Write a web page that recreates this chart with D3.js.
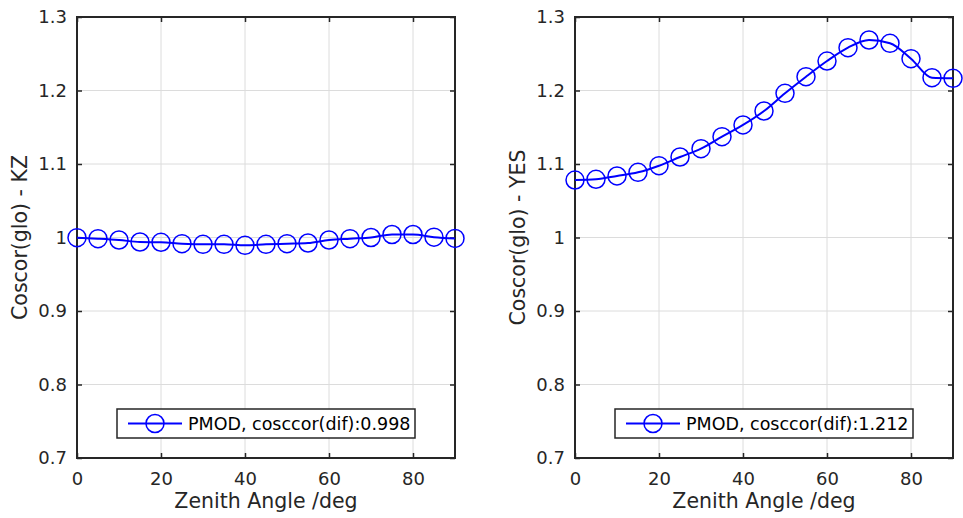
<!DOCTYPE html>
<html>
<head>
<meta charset="utf-8">
<script src="https://cdn.jsdelivr.net/npm/d3@7"></script>
<style>
  body { margin: 0; background: #fff; }
  svg { display: block; font-family: "DejaVu Sans", sans-serif; }
</style>
</head>
<body>
<svg id="chart"></svg>
<script>
// zenith angles (deg) shared by both panels
const angles = [0, 5, 10, 15, 20, 25, 30, 35, 40, 45, 50, 55, 60, 65, 70, 75, 80, 85, 90];

// cosine correction, global, per site
const kzValues = [0.9998, 0.9984, 0.9966, 0.9939, 0.9935, 0.9916, 0.9907, 0.9907, 0.9893, 0.9907,
                  0.9916, 0.9925, 0.9966, 0.9984, 1.0000, 1.0041, 1.0041, 1.0005, 0.9987];
const yesValues = [1.0782, 1.0792, 1.0837, 1.0887, 1.0977, 1.1095, 1.1209, 1.1372, 1.1531, 1.1721,
                   1.1962, 1.2188, 1.2401, 1.2583, 1.2687, 1.2642, 1.2433, 1.2174, 1.2166];

const xTicks = [0, 20, 40, 60, 80];
const yTicks = [0.7, 0.8, 0.9, 1.0, 1.1, 1.2, 1.3];

const panels = [
    { left: 77, values: kzValues, ylabel: 'Coscor(glo) - KZ', legend: 'PMOD, cosccor(dif):0.998' },
    { left: 575, values: yesValues, ylabel: 'Coscor(glo) - YES', legend: 'PMOD, cosccor(dif):1.212' }
];

const width = 963;
const height = 518;
const plotW = 378;
const plotTop = 17;
const plotBottom = 458;
const axisColor = '#262626';
const blue = '#0000ff';

const svg = d3.select('#chart')
    .attr('width', width)
    .attr('height', height);

panels.forEach(p => {
    const x = d3.scaleLinear().domain([0, 90]).range([p.left, p.left + plotW]);
    const y = d3.scaleLinear().domain([0.7, 1.3]).range([plotBottom, plotTop]);

    const g = svg.append('g');

    // grid
    g.append('g').selectAll('line')
        .data(xTicks.filter(d => d > 0))
        .join('line')
        .attr('x1', d => x(d)).attr('x2', d => x(d))
        .attr('y1', plotTop).attr('y2', plotBottom)
        .attr('stroke', '#dcdcdc').attr('stroke-width', 1);
    g.append('g').selectAll('line')
        .data(yTicks.filter(d => d > 0.7 && d < 1.3))
        .join('line')
        .attr('x1', x(0)).attr('x2', x(90))
        .attr('y1', d => y(d)).attr('y2', d => y(d))
        .attr('stroke', '#dcdcdc').attr('stroke-width', 1);

    // axes (inward ticks on all four sides)
    const fmt = d => d === 1 ? '1' : d3.format('.1f')(d);
    g.append('g')
        .attr('transform', `translate(0,${plotBottom})`)
        .call(d3.axisBottom(x).tickValues(xTicks).tickSize(-5).tickPadding(14).tickSizeOuter(0));
    g.append('g')
        .attr('transform', `translate(${p.left},0)`)
        .call(d3.axisLeft(y).tickValues(yTicks).tickFormat(fmt).tickSize(-5).tickPadding(10).tickSizeOuter(0));
    g.append('g')
        .attr('transform', `translate(0,${plotTop})`)
        .call(d3.axisTop(x).tickValues(xTicks).tickSize(-5).tickFormat('').tickSizeOuter(0));
    g.append('g')
        .attr('transform', `translate(${p.left + plotW},0)`)
        .call(d3.axisRight(y).tickValues(yTicks).tickSize(-5).tickFormat('').tickSizeOuter(0));

    g.selectAll('.domain').attr('stroke', 'none');
    g.selectAll('.tick line').attr('stroke', axisColor).attr('stroke-width', 1.5);
    g.selectAll('.tick text')
        .attr('fill', axisColor)
        .attr('font-size', 18)
        .attr('font-family', '"DejaVu Sans", sans-serif');

    // box
    g.append('rect')
        .attr('x', x(0)).attr('y', plotTop)
        .attr('width', plotW).attr('height', plotBottom - plotTop)
        .attr('fill', 'none')
        .attr('stroke', axisColor).attr('stroke-width', 2);

    // labels
    g.append('text')
        .attr('x', (x(0) + x(90)) / 2)
        .attr('y', 508)
        .attr('text-anchor', 'middle')
        .attr('font-size', 20.5)
        .attr('fill', axisColor)
        .text('Zenith Angle /deg');
    g.append('text')
        .attr('transform', `translate(${p.left - 50},${(plotTop + plotBottom) / 2}) rotate(-90)`)
        .attr('text-anchor', 'middle')
        .attr('font-size', 20.5)
        .attr('fill', axisColor)
        .text(p.ylabel);

    // series
    const line = d3.line()
        .x((d, i) => x(angles[i]))
        .y(d => y(d))
        .curve(d3.curveMonotoneX);
    g.append('path')
        .datum(p.values)
        .attr('d', line)
        .attr('fill', 'none')
        .attr('stroke', blue)
        .attr('stroke-width', 2);
    g.append('g').selectAll('circle')
        .data(p.values)
        .join('circle')
        .attr('cx', (d, i) => x(angles[i]))
        .attr('cy', d => y(d))
        .attr('r', 9)
        .attr('fill', 'none')
        .attr('stroke', blue)
        .attr('stroke-width', 1.5);

    // legend (south, centred)
    const lg = g.append('g');
    const lx = (x(0) + x(90)) / 2 - 149;
    const ly = 409;
    lg.append('rect')
        .attr('x', lx).attr('y', ly)
        .attr('width', 298).attr('height', 29)
        .attr('fill', '#fff')
        .attr('stroke', axisColor).attr('stroke-width', 1.5);
    lg.append('line')
        .attr('x1', lx + 11).attr('x2', lx + 65)
        .attr('y1', ly + 14.5).attr('y2', ly + 14.5)
        .attr('stroke', blue).attr('stroke-width', 2);
    lg.append('circle')
        .attr('cx', lx + 38).attr('cy', ly + 14.5).attr('r', 9)
        .attr('fill', 'none').attr('stroke', blue).attr('stroke-width', 1.5);
    lg.append('text')
        .attr('x', lx + 71).attr('y', ly + 21)
        .attr('font-size', 17.5)
        .attr('fill', '#000')
        .text(p.legend);
});
</script>
</body>
</html>
